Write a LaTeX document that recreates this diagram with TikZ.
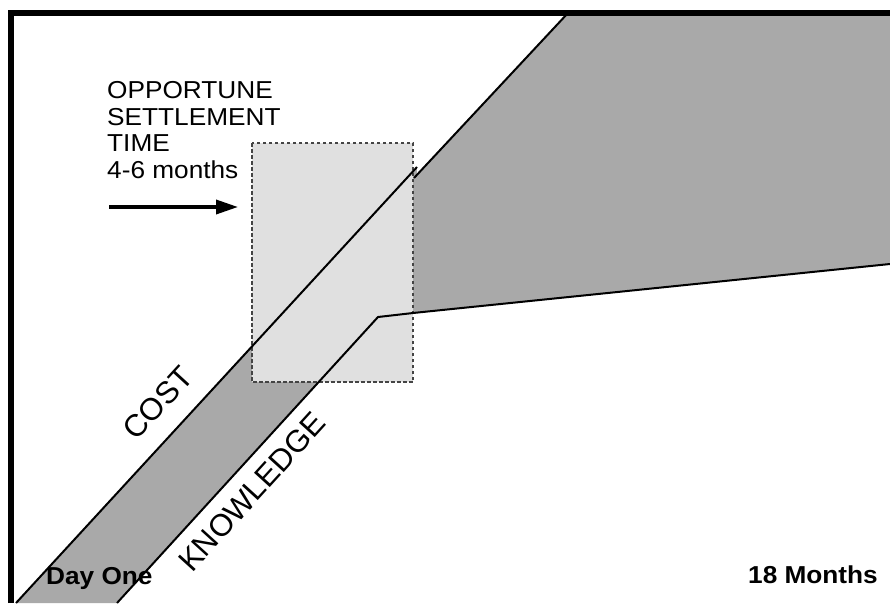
\documentclass[tikz,border=0pt]{standalone}
\usepackage{fontspec}
\setmainfont{Liberation Sans}[FakeStretch=1.07]
\newfontfamily\plainsans{Liberation Sans}
\usetikzlibrary{arrows.meta}
\definecolor{bandgray}{HTML}{A9A9A9}
\definecolor{boxgray}{HTML}{E0E0E0}
\definecolor{dashgray}{HTML}{444444}
\tikzset{
  curve/.style={draw=black, line width=2pt, line join=miter},
  frameline/.style={draw=black, line width=6pt},
  window/.style={fill=boxgray, draw=dashgray, line width=1.3pt, dash pattern=on 3.5pt off 2.5pt},
  label/.style={inner sep=0pt, font=\fontsize{24.5}{26.5}\selectfont},
  boldlabel/.style={inner sep=0pt, font=\fontsize{24.5}{26}\selectfont\bfseries},
  diaglabel/.style={inner sep=0pt, font=\plainsans\fontsize{31}{33}\selectfont},
}
\begin{document}
\begin{tikzpicture}[x=1pt,y=-1pt]
\useasboundingbox (0,0) rectangle (890,603);
% coordinates
\coordinate (c0) at (16,603);
\coordinate (c1) at (417,167);
\coordinate (c2) at (414,178);
\coordinate (c3) at (568,13);
\coordinate (k0) at (117,603);
\coordinate (k1) at (378,317);
\coordinate (k2) at (413,313);
\coordinate (k3) at (890,264);
\coordinate (tr) at (890,13);
% band
\fill[bandgray] (c0) -- (c1) -- (k2) -- (k1) -- (k0) -- cycle;
% right region
\fill[bandgray] (c2) -- (c3) -- (tr) -- (k3) -- (k2) -- cycle;
% window
\draw[window] (252,143) rectangle (413,382);
% curves
\draw[curve] (c0) -- (c1);
\draw[curve] (k0) -- (k1) -- (k2);
\draw[curve] (c2) -- (c3);
\draw[curve] (k2) -- (k3);
% frame
\draw[frameline] (11,603) -- (11,13) -- (890,13);
% labels
\node[label, anchor=north west, align=left] (ost) at (107,81.5) {OPPORTUNE\\SETTLEMENT\\TIME\\4-6 months};
\coordinate (a0) at (109,207);
\coordinate (a1) at (238,207);
\draw[line width=3.5pt, -{Triangle[length=22pt,width=14pt]}] (a0) -- (a1);
\node[diaglabel, rotate=47.5] (cost) at (158,403) {COST};
\node[diaglabel, rotate=47.7] (know) at (252,492) {KNOWLEDGE};
\node[boldlabel, anchor=base west] (day) at (46,584) {Day One};
\node[boldlabel, anchor=base east] (mon) at (878,583) {18 Months};
\end{tikzpicture}
\end{document}
